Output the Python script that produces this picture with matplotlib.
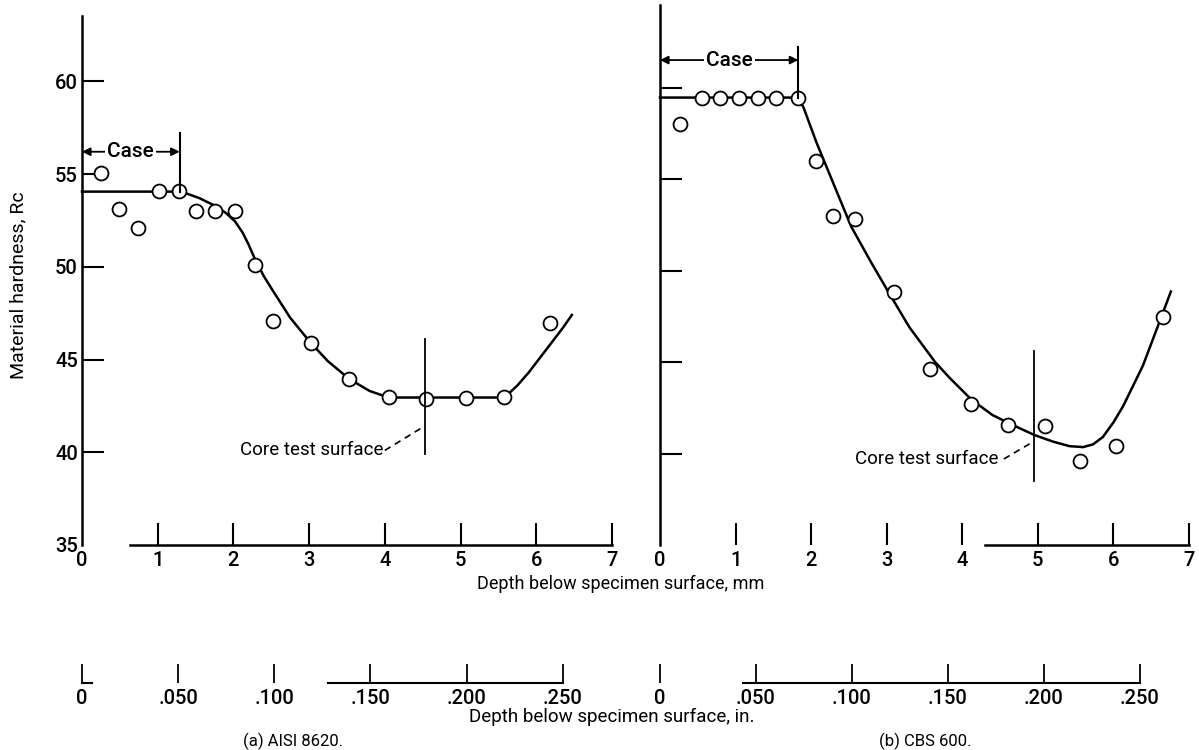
import matplotlib
matplotlib.use("Agg")
import matplotlib.pyplot as plt

plt.rcParams["font.family"] = ["Roboto", "DejaVu Sans"]
plt.rcParams["font.size"] = 13
plt.rcParams["font.weight"] = "medium"

# ---------------- data ----------------
# (a) AISI 8620 measured hardness
a_depth_mm = [0.25, 0.49, 0.74, 1.02, 1.28, 1.50, 1.75, 2.02, 2.28, 2.52,
              3.02, 3.53, 4.05, 4.55, 5.07, 5.58, 6.18]
a_hardness = [55.05, 53.1, 52.1, 54.1, 54.1, 53.0, 53.0, 53.0, 50.1, 47.1,
              45.9, 43.95, 43.0, 42.85, 42.9, 43.0, 46.95]
# faired curve through (a)
a_curve_mm = [0.0, 1.28, 1.38, 1.55, 1.75, 1.90, 2.02, 2.12, 2.20, 2.28,
              2.40, 2.53, 2.75, 3.02, 3.25, 3.53, 3.80, 4.05, 5.58, 5.75,
              5.90, 6.05, 6.20, 6.35, 6.47]
a_curve_rc = [54.05, 54.05, 53.95, 53.7, 53.3, 52.9, 52.45, 51.85, 51.2, 50.45,
              49.5, 48.65, 47.25, 45.9, 44.9, 43.95, 43.3, 42.95, 42.95, 43.6,
              44.3, 45.1, 45.9, 46.7, 47.4]
a_case_mm = 1.29
a_core_mm = 4.53

# (b) CBS 600 measured hardness
b_depth_mm = [0.26, 0.55, 0.79, 1.05, 1.30, 1.54, 1.83, 2.07, 2.29, 2.58,
              3.09, 3.57, 4.12, 4.60, 5.10, 5.56, 6.04, 6.65]
b_hardness = [58.0, 59.4, 59.4, 59.4, 59.4, 59.4, 59.4, 56.0, 53.0, 52.8,
              48.8, 44.6, 42.7, 41.55, 41.5, 39.6, 40.4, 47.45]
# faired curve through (b)
b_curve_mm = [0.0, 1.83, 1.90, 2.07, 2.27, 2.53, 2.80, 3.04, 3.30, 3.64,
              3.84, 4.12, 4.40, 4.67, 4.96, 5.20, 5.42, 5.60, 5.73, 5.86,
              6.00, 6.13, 6.39, 6.61, 6.76]
b_curve_rc = [59.45, 59.45, 58.9, 57.0, 55.0, 52.4, 50.4, 48.7, 46.9, 45.0,
              44.1, 42.95, 42.1, 41.55, 41.0, 40.65, 40.4, 40.35, 40.5, 40.9,
              41.7, 42.6, 44.8, 47.2, 48.85]
b_case_mm = 1.83
b_core_mm = 4.95

hard_ticks = [35, 40, 45, 50, 55, 60]
mm_ticks = [0, 1, 2, 3, 4, 5, 6, 7]
in_ticks = [0, 0.05, 0.10, 0.15, 0.20, 0.25]
in_labels = ["0", ".050", ".100", ".150", ".200", ".250"]

# ---------------- layout helpers ----------------
W, H = 1199, 750
fig = plt.figure(figsize=(W / 100, H / 100), dpi=100)


def px_axes(x0, x1, ybot, ytop):
    return fig.add_axes([x0 / W, 1 - ybot / H, (x1 - x0) / W, (ybot - ytop) / H])


LW = 1.8
TICK_FS = 14.5


def style_panel(ax, top, labels, base_lo):
    for s in ("top", "right"):
        ax.spines[s].set_visible(False)
    ax.spines["left"].set_linewidth(LW)
    ax.spines["bottom"].set_linewidth(LW)
    ax.spines["bottom"].set_bounds(base_lo, 7)
    ax.set_xlim(0, 7)
    ax.set_ylim(35, top)
    ax.set_xticks(mm_ticks)
    ax.set_xticklabels([str(t) for t in mm_ticks])
    ax.tick_params(axis="x", direction="in", length=16, width=1.5, pad=4,
                   labelsize=TICK_FS)
    ax.set_yticks(hard_ticks)
    if labels:
        ax.set_yticklabels([str(t) for t in hard_ticks])
    else:
        ax.set_yticklabels([])
    ax.tick_params(axis="y", direction="in", length=16, width=1.5, pad=3,
                   labelsize=TICK_FS)
    ax.yaxis.get_major_ticks()[0].tick1line.set_visible(False)
    ax.xaxis.get_major_ticks()[0].tick1line.set_visible(False)
    ax.patch.set_alpha(0)


def draw_data(ax, xs, ys, cx, cy):
    ax.plot(cx, cy, color="black", lw=LW, zorder=3, clip_on=False)
    ax.plot(xs, ys, "o", ms=10, mfc="white", mec="black", mew=1.3,
            zorder=4, clip_on=False)


def case_marker(ax, x_case, y_arrow, y_top, y_bottom):
    ax.plot([x_case, x_case], [y_bottom, y_top], color="black", lw=1.5,
            zorder=5, clip_on=False)
    ax.annotate("", xy=(0, y_arrow), xytext=(x_case, y_arrow),
                arrowprops=dict(arrowstyle="<|-|>", color="black", lw=1.3,
                                mutation_scale=12, shrinkA=0, shrinkB=0),
                zorder=5)
    ax.text(x_case / 2, y_arrow, "Case", ha="center", va="center", fontsize=15,
            zorder=6, bbox=dict(boxstyle="square,pad=0.1", fc="white", ec="none"))


def core_marker(ax, x_core, y_lo, y_hi, leader, text_xy):
    ax.plot([x_core, x_core], [y_lo, y_hi], color="black", lw=1.3, zorder=5)
    ax.plot(*leader, color="black", lw=1.2, ls=(0, (4, 3)), zorder=5)
    ax.text(text_xy[0], text_xy[1], "Core test surface", ha="right",
            va="center", fontsize=13.5, fontweight="normal")


# ---------------- panel (a) ----------------
axa = px_axes(82, 612, 545, 545 - 28.5 * 18.55)
style_panel(axa, 63.5, True, 0.63)
draw_data(axa, a_depth_mm, a_hardness, a_curve_mm, a_curve_rc)
case_marker(axa, a_case_mm, 56.2, 57.2, 54.05)
core_marker(axa, a_core_mm, 39.9, 46.1, ([4.0, 4.52], [40.1, 41.4]),
            (3.98, 40.1))

# ---------------- panel (b) ----------------
axb = px_axes(660, 1189, 545, 545 - 29.5 * 18.3)
style_panel(axb, 64.5, False, 4.3)
draw_data(axb, b_depth_mm, b_hardness, b_curve_mm, b_curve_rc)
case_marker(axb, b_case_mm, 61.5, 62.2, 59.45)
core_marker(axb, b_core_mm, 38.5, 45.6, ([4.55, 4.92], [39.7, 40.6]),
            (4.48, 39.7))


# ---------------- inch scales ----------------
def inch_axis(x0, x1, base_lo, foot):
    ax = px_axes(x0, x1, 683, 682)
    for s in ("top", "right", "left"):
        ax.spines[s].set_visible(False)
    ax.spines["bottom"].set_linewidth(1.5)
    ax.spines["bottom"].set_bounds(base_lo, 0.25)
    ax.set_xlim(0, 7 / 25.4)
    ax.set_yticks([])
    ax.set_xticks(in_ticks)
    ax.set_xticklabels(in_labels)
    ax.tick_params(axis="x", direction="in", length=14, width=1.3, pad=4,
                   labelsize=TICK_FS)
    ax.patch.set_alpha(0)
    if foot:
        ax.plot([0, 0.005], [0, 0], color="black", lw=1.5, clip_on=False,
                transform=ax.get_xaxis_transform())
    return ax


inch_axis(82, 612, 0.128, True)
inch_axis(660, 1189, 0.043, False)

# ---------------- titles ----------------
fig.text(621 / W, 1 - 584 / H, "Depth below specimen surface, mm",
         ha="center", va="center", fontsize=13, fontweight="normal")
fig.text(612 / W, 1 - 717 / H, "Depth below specimen surface, in.",
         ha="center", va="center", fontsize=13.5, fontweight="normal")
fig.text(18 / W, 1 - 285 / H, "Material hardness, Rc", rotation=90,
         ha="center", va="center", fontsize=14, fontweight="normal")
fig.text(293 / W, 1 - 741 / H, "(a) AISI 8620.", ha="center", va="center",
         fontsize=12, fontweight="normal")
fig.text(925 / W, 1 - 741 / H, "(b) CBS 600.", ha="center", va="center",
         fontsize=12, fontweight="normal")

fig.savefig("out.png", dpi=100)
